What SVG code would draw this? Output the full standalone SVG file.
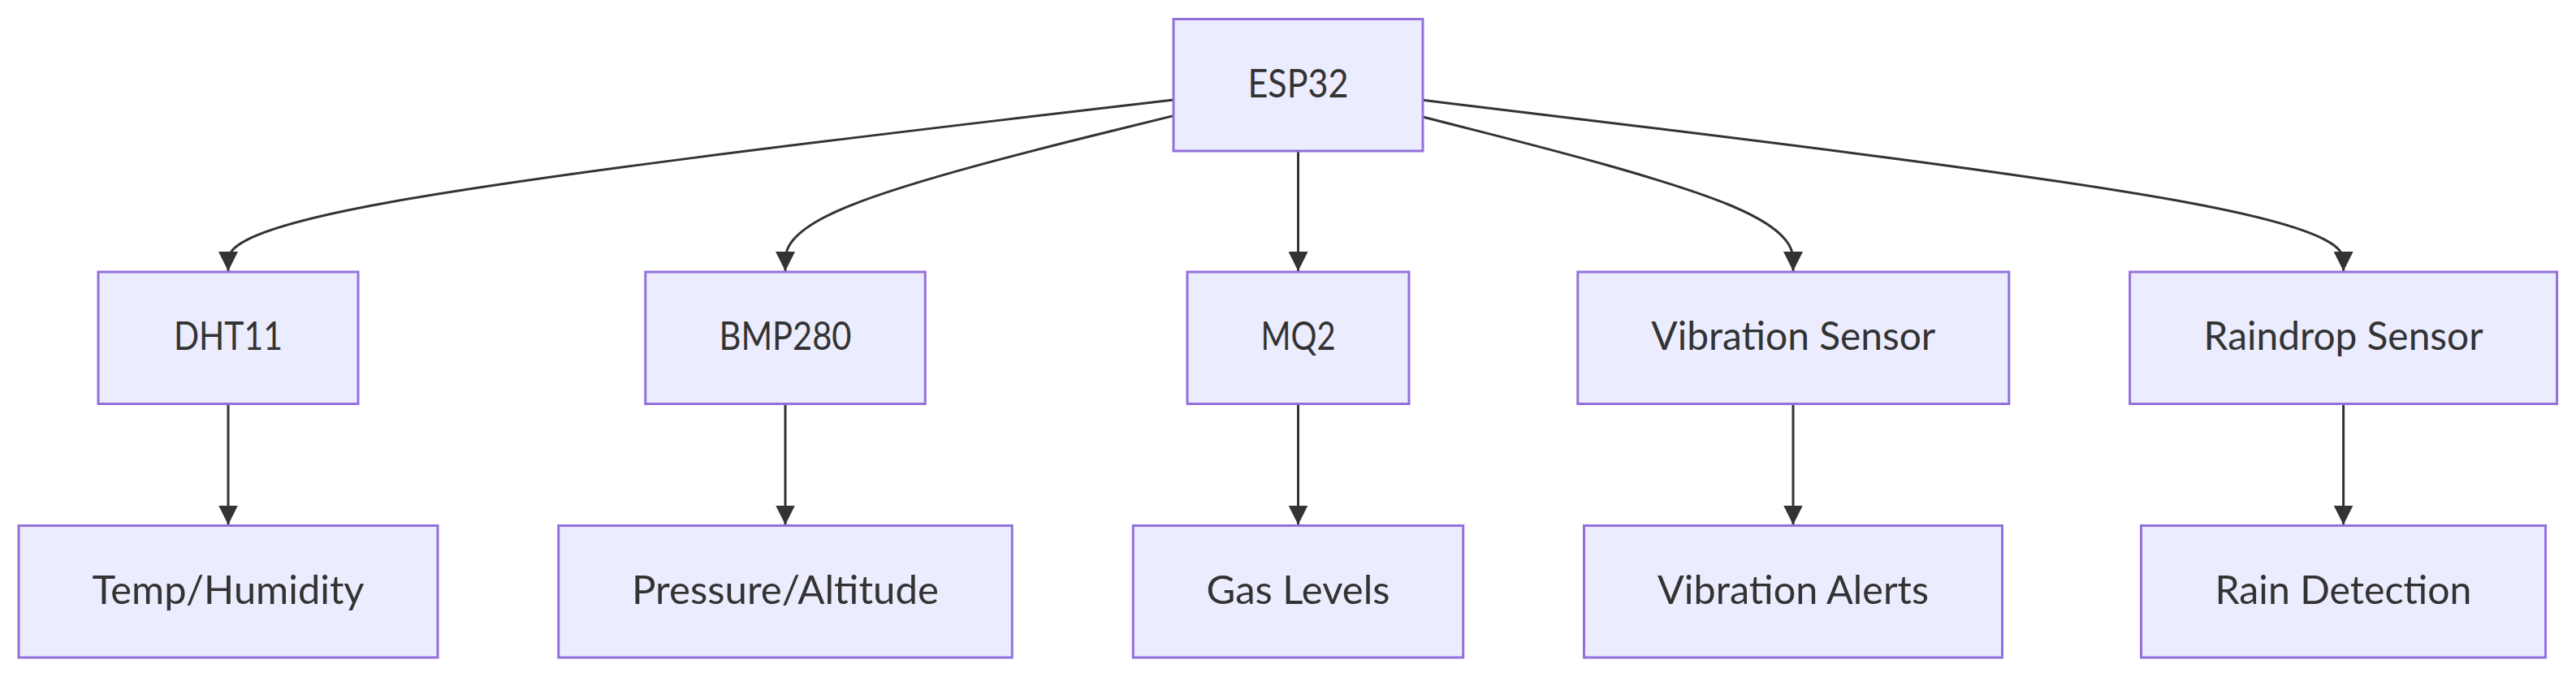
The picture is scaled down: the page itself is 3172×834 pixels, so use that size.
<svg xmlns="http://www.w3.org/2000/svg" width="3172" height="834" viewBox="0 0 3172 834">
<style>
.node rect{fill:#ECECFF;stroke:#9370DB;stroke-width:3}
.node text{font-family:"Trebuchet MS","Lato","Liberation Sans",sans-serif;font-size:48px;fill:#333333;text-anchor:middle}
.edge{fill:none;stroke:#333333;stroke-width:3;marker-end:url(#arrow)}
</style>
<defs>
<marker id="arrow" viewBox="0 0 24 24" refX="24" refY="12" markerWidth="24" markerHeight="24" markerUnits="userSpaceOnUse" orient="auto">
<path d="M0,0 L24,12 L0,24 z" fill="#333333"/>
</marker>
</defs>
<rect width="3172" height="834" fill="#ffffff"/>
<g id="connectors">
<path class="edge" d="M1445,122.9 L1251,145.8 C1057,168.8 669,214.6 475,250 C281,285.3 281,310.2 281,322.6 L281,334"/>
<path class="edge" d="M1445,142.6 L1365.3,162.3 C1285.7,181.9 1126.3,221.2 1046.7,253.3 C967,285.3 967,310.2 967,322.6 L967,334"/>
<path class="edge" d="M1598.5,186 L1598.5,334"/>
<path class="edge" d="M1752,144 L1828,163.4 C1904,182.8 2056,221.7 2132,253.5 C2208,285.3 2208,310.2 2208,322.6 L2208,334"/>
<path class="edge" d="M1752,123.3 L1940.9,146.2 C2129.9,169 2507.7,214.8 2696.7,250 C2885.6,285.3 2885.6,310.2 2885.6,322.6 L2885.6,334"/>
<path class="edge" d="M281,497.5 L281,646.5"/>
<path class="edge" d="M967,497.5 L967,646.5"/>
<path class="edge" d="M1598.5,497.5 L1598.5,646.5"/>
<path class="edge" d="M2208,497.5 L2208,646.5"/>
<path class="edge" d="M2885.6,497.5 L2885.6,646.5"/>
</g>
<g id="esp32" class="node"><rect x="1445" y="23.5" width="307" height="162.5"/><text x="1598.5" y="119.5" textLength="124" lengthAdjust="spacingAndGlyphs">ESP32</text></g>
<g id="dht11" class="node"><rect x="121" y="335" width="320" height="162.5"/><text x="281" y="431" textLength="134" lengthAdjust="spacingAndGlyphs">DHT11</text></g>
<g id="bmp280" class="node"><rect x="794.75" y="335" width="344.5" height="162.5"/><text x="967" y="431" textLength="163" lengthAdjust="spacingAndGlyphs">BMP280</text></g>
<g id="mq2" class="node"><rect x="1462" y="335" width="273" height="162.5"/><text x="1598.5" y="431" textLength="92" lengthAdjust="spacingAndGlyphs">MQ2</text></g>
<g id="vibration-sensor" class="node"><rect x="1942.8" y="335" width="531" height="162.5"/><text x="2208.3" y="431" textLength="350" lengthAdjust="spacingAndGlyphs">Vibration Sensor</text></g>
<g id="raindrop-sensor" class="node"><rect x="2622.6" y="335" width="526" height="162.5"/><text x="2885.6" y="431" textLength="344" lengthAdjust="spacingAndGlyphs">Raindrop Sensor</text></g>
<g id="temp-humidity" class="node"><rect x="23" y="647.5" width="516" height="162.5"/><text x="281" y="743.5" textLength="335" lengthAdjust="spacingAndGlyphs">Temp/Humidity</text></g>
<g id="pressure-altitude" class="node"><rect x="687.75" y="647.5" width="558.5" height="162.5"/><text x="967" y="743.5" textLength="378" lengthAdjust="spacingAndGlyphs">Pressure/Altitude</text></g>
<g id="gas-levels" class="node"><rect x="1395.3" y="647.5" width="406.4" height="162.5"/><text x="1598.5" y="743.5" textLength="226" lengthAdjust="spacingAndGlyphs">Gas Levels</text></g>
<g id="vibration-alerts" class="node"><rect x="1950.5" y="647.5" width="515" height="162.5"/><text x="2208" y="743.5" textLength="334" lengthAdjust="spacingAndGlyphs">Vibration Alerts</text></g>
<g id="rain-detection" class="node"><rect x="2636.5" y="647.5" width="498" height="162.5"/><text x="2885.5" y="743.5" textLength="316" lengthAdjust="spacingAndGlyphs">Rain Detection</text></g>
</svg>
